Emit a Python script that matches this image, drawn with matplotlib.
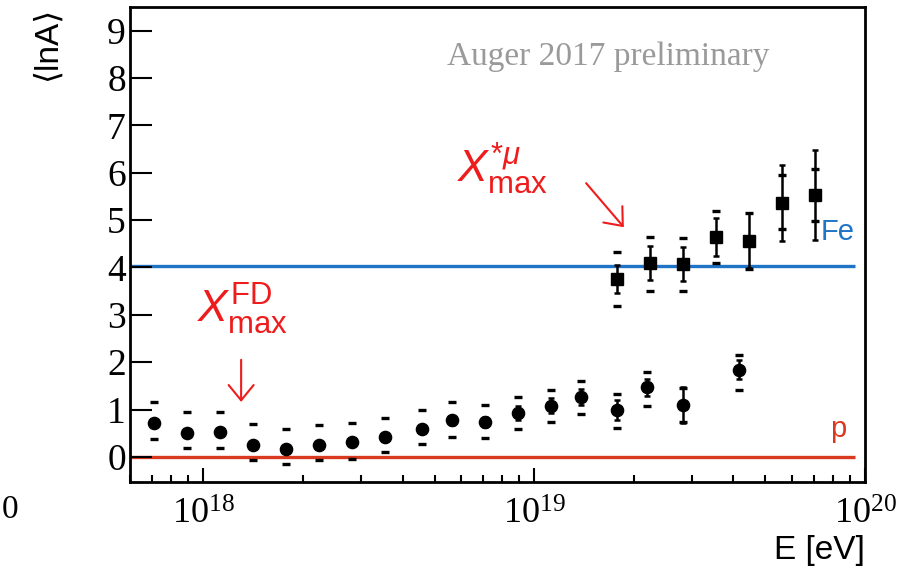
"""<lnA> vs energy from Xmax (FD) and X*mu_max, with p and Fe reference lines."""

import matplotlib

matplotlib.use("Agg")
import matplotlib.pyplot as plt
import numpy as np
from matplotlib.ticker import MultipleLocator, LogLocator, NullFormatter

plt.rcParams["font.family"] = ["Liberation Serif", "DejaVu Serif"]
plt.rcParams["mathtext.fontset"] = "custom"
plt.rcParams["mathtext.rm"] = "Liberation Sans"
plt.rcParams["mathtext.it"] = "Liberation Sans:italic"
plt.rcParams["mathtext.sf"] = "Liberation Sans"

SANS = ["Liberation Sans", "DejaVu Sans"]

# Xmax from the fluorescence detector: log10(E/eV), <lnA>, stat and sys errors
LGE_FD = [17.85, 17.95, 18.05, 18.15, 18.25, 18.35, 18.45, 18.55, 18.66,
          18.75, 18.85, 18.95, 19.05, 19.14, 19.25, 19.34, 19.45, 19.62]
LNA_FD = [0.71, 0.51, 0.52, 0.26, 0.17, 0.25, 0.31, 0.43, 0.59,
          0.77, 0.74, 0.92, 1.08, 1.27, 0.99, 1.47, 1.10, 1.84]
STAT_FD = [0.06, 0.05, 0.05, 0.05, 0.06, 0.06, 0.06, 0.07, 0.08,
           0.09, 0.10, 0.15, 0.16, 0.17, 0.22, 0.18, 0.38, 0.20]
SYS_UP_FD = [0.44, 0.43, 0.42, 0.44, 0.42, 0.42, 0.40, 0.40, 0.39,
             0.38, 0.36, 0.35, 0.33, 0.33, 0.34, 0.33, 0.35, 0.31]
SYS_DN_FD = [0.34, 0.33, 0.34, 0.32, 0.32, 0.31, 0.35, 0.32, 0.32,
             0.34, 0.35, 0.34, 0.35, 0.36, 0.39, 0.39, 0.36, 0.43]

# X*mu_max from the muon production depth
LGE_MU = [19.25, 19.35, 19.45, 19.55, 19.65, 19.75, 19.85]
LNA_MU = [3.76, 4.09, 4.07, 4.65, 4.56, 5.36, 5.53]
STAT_MU = [0.30, 0.36, 0.36, 0.40, 0.58, 0.81, 0.94]
SYS_UP_MU = [0.56, 0.56, 0.56, 0.54, 0.59, 0.59, 0.54]
SYS_DN_MU = [0.57, 0.58, 0.56, 0.56, 0.60, 0.55, 0.55]

P_LNA = 0.0
FE_LNA = 4.03  # ln 56

RED = "#ee1c1c"
BLUE = "#1f74c6"
PRED = "#d9391e"

fig = plt.figure(figsize=(9.17, 5.70), dpi=100)
ax = fig.add_axes([0.1418, 0.1544, 0.8015, 0.8333])

ax.hlines(FE_LNA, 6e17, 9.3e19, color=BLUE, lw=2.4, zorder=1)
ax.hlines(P_LNA, 6e17, 9.3e19, color=PRED, lw=2.4, zorder=1)

e_fd = 10 ** np.array(LGE_FD)
ax.errorbar(e_fd, LNA_FD, yerr=[SYS_DN_FD, SYS_UP_FD], fmt="none", ecolor="k",
            elinewidth=0, capsize=3.0, capthick=2.4, zorder=2)
ax.errorbar(e_fd, LNA_FD, yerr=STAT_FD, fmt="o", color="k", ms=8.8,
            elinewidth=1.8, capsize=2.3, capthick=1.8, zorder=3)

e_mu = 10 ** np.array(LGE_MU)
ax.errorbar(e_mu, LNA_MU, yerr=[SYS_DN_MU, SYS_UP_MU], fmt="none", ecolor="k",
            elinewidth=0, capsize=3.0, capthick=2.4, zorder=2)
ax.errorbar(e_mu, LNA_MU, yerr=STAT_MU, fmt="s", color="k", ms=8.8,
            elinewidth=1.8, capsize=2.3, capthick=1.8, zorder=3)

ax.set_xscale("log")
ax.set_xlim(6e17, 1e20)
ax.set_ylim(-0.53, 9.5)
ax.yaxis.set_major_locator(MultipleLocator(1))
ax.xaxis.set_major_locator(LogLocator(base=10))
ax.xaxis.set_minor_locator(LogLocator(base=10, subs=np.arange(2, 10)))
ax.xaxis.set_minor_formatter(NullFormatter())
ax.tick_params(axis="y", which="major", direction="in", length=15.5, width=1.5,
               labelsize=27, pad=3)
ax.tick_params(axis="x", which="major", direction="in", length=10, width=1.5,
               labelsize=26, pad=12)
ax.tick_params(axis="x", which="minor", direction="in", length=5, width=1.5)
for sp in ax.spines.values():
    sp.set_linewidth(2.0)

ax.set_ylabel("⟨lnA⟩", loc="top", fontsize=24, family=SANS)
ax.yaxis.set_label_coords(-0.091, 1.0)
ax.set_xlabel("E [eV]", loc="right", fontsize=24, family=SANS)
ax.xaxis.set_label_coords(1.0, -0.112)

ax.text(0.4313, 0.878, "Auger 2017 preliminary", transform=ax.transAxes,
        fontsize=24, color="#9a9a9a", va="baseline", ha="left")

ax.text(10 ** 18.768, 5.80, r"$X^{*\mu}_{\mathrm{max}}$", color=RED,
        fontsize=32, va="baseline", ha="left")
ax.text(10 ** 17.98, 2.83, r"$X^{\mathrm{FD}}_{\mathrm{max}}$", color=RED,
        fontsize=32, va="baseline", ha="left")

arrow = dict(arrowstyle="->,head_length=0.55,head_width=0.45", color=RED,
             lw=1.5, mutation_scale=20, shrinkA=0, shrinkB=0)
ax.annotate("", xy=(10 ** 18.114, 1.16), xytext=(10 ** 18.114, 2.05), arrowprops=arrow)
ax.annotate("", xy=(10 ** 19.271, 4.85), xytext=(10 ** 19.157, 5.78), arrowprops=arrow)

ax.text(10 ** 19.867, 4.58, "Fe", color=BLUE, fontsize=21, family=SANS,
        va="baseline", ha="left")
ax.text(10 ** 19.894, 0.42, "p", color=PRED, fontsize=21, family=SANS,
        va="baseline", ha="left")

# stray tick label from the neighbouring panel
fig.text(0.0015, 0.105, "0", fontsize=24, ha="left", va="center")

fig.savefig("out.png", dpi=100)
